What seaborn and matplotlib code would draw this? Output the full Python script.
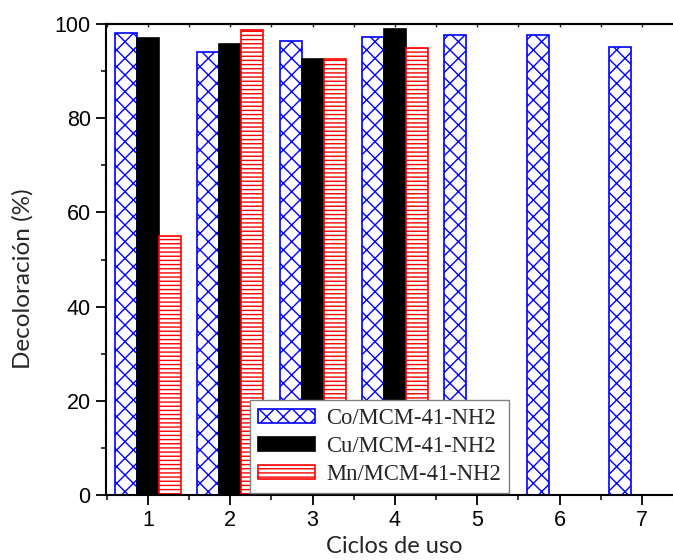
import numpy as np
import pandas as pd
import matplotlib.pyplot as plt
import seaborn as sns
from matplotlib.ticker import MultipleLocator

ciclos = [1, 2, 3, 4, 5, 6, 7]
co_vals = [98.0, 94.0, 96.3, 97.2, 97.6, 97.6, 95.2]
cu_vals = [97.0, 95.8, 92.5, 99.0, np.nan, np.nan, np.nan]
mn_vals = [55.0, 98.8, 92.5, 95.0, np.nan, np.nan, np.nan]
series = ['Co/MCM-41-NH2', 'Cu/MCM-41-NH2', 'Mn/MCM-41-NH2']

df = pd.DataFrame({
    'ciclo': ciclos * 3,
    'valor': co_vals + cu_vals + mn_vals,
    'serie': [series[0]] * 7 + [series[1]] * 7 + [series[2]] * 7,
})

sns.set_theme(style='ticks')
plt.rcParams['hatch.linewidth'] = 1.0

fig = plt.figure(figsize=(6.73, 5.6), dpi=100)
# right edge of the plot area runs off the picture, like the original
ax = fig.add_axes([106 / 673, 65 / 560, 573 / 673, 471 / 560])

sns.barplot(data=df, x='ciclo', y='valor', hue='serie', hue_order=series,
            width=0.8, ax=ax, legend=False)

styles = {
    0: dict(facecolor='white', edgecolor='blue', hatch='xx'),
    1: dict(facecolor='black', edgecolor='black', hatch=None),
    2: dict(facecolor='white', edgecolor='red', hatch='----'),
}
for i, cont in enumerate(ax.containers):
    for bar in cont:
        bar.set_facecolor(styles[i]['facecolor'])
        bar.set_edgecolor(styles[i]['edgecolor'])
        bar.set_linewidth(1.2)
        if styles[i]['hatch']:
            bar.set_hatch(styles[i]['hatch'])

ax.set_xlim(-0.51, 6.45)
ax.set_ylim(0, 100)
ax.yaxis.set_major_locator(MultipleLocator(20))
ax.yaxis.set_minor_locator(MultipleLocator(10))
ax.set_xticks(range(7))
ax.set_xticks(np.arange(-0.5, 6.5, 1), minor=True)
ax.set_xticklabels([str(c) for c in ciclos])

for s in ax.spines.values():
    s.set_linewidth(1.5)
    s.set_color('black')
ax.spines['top'].set_visible(True)
ax.spines['right'].set_visible(False)
ax.tick_params(axis='both', which='major', direction='out', length=7, width=1.3,
               labelsize=15.5, colors='black', pad=4)
ax.tick_params(axis='both', which='minor', direction='out', length=3.5, width=1.3)
for lab in ax.get_xticklabels() + ax.get_yticklabels():
    lab.set_fontfamily('Liberation Sans')

# small inward ticks along the top frame
top = ax.secondary_xaxis('top')
top.set_xticks(range(7))
top.set_xticks(np.arange(-0.5, 6.5, 1), minor=True)
top.tick_params(which='both', direction='in', length=2.5, width=1.0, labeltop=False)
top.spines['top'].set_linewidth(1.5)

ax.set_xlabel('Ciclos de uso', fontsize=17, family='Lato')
ax.set_ylabel('Decoloración (%)', fontsize=17.5, family='Lato')
ax.xaxis.set_label_coords((394 - 106) / 573, -0.086)
ax.yaxis.set_label_coords(-0.127, 0.46)

handles = [plt.Rectangle((0, 0), 1, 1, linewidth=1.2, **styles[i]) for i in range(3)]
leg = ax.legend(handles, series, loc='lower left', bbox_to_anchor=(142 / 573, 0.0),
                prop={'family': 'Liberation Serif', 'size': 16.3},
                frameon=True, fancybox=False, edgecolor='gray', framealpha=1.0,
                handlelength=2.5, handleheight=0.6, borderpad=0.35,
                labelspacing=0.3, handletextpad=0.5, borderaxespad=0.1)
leg.get_frame().set_linewidth(1.0)

fig.savefig('out.png', dpi=100)
